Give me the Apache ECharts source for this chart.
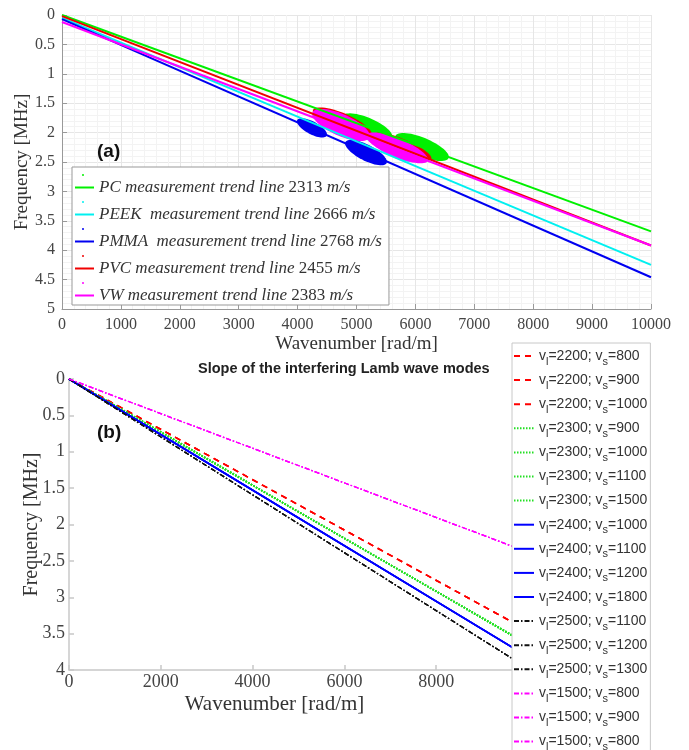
<!DOCTYPE html>
<html><head><meta charset="utf-8">
<script src="https://cdn.jsdelivr.net/npm/echarts@6/dist/echarts.min.js"></script>
<style>html,body{margin:0;padding:0;background:#fff}#c{width:689px;height:750px}</style>
</head><body><div id="c"></div>
<script>
// ================= (a) measurement trend lines =================
const materials = ['PC', 'PEEK', 'PMMA', 'PVC', 'VW'];
const materialLabel = ['PC', 'PEEK ', 'PMMA ', 'PVC', 'VW'];
const trendSpeeds = [2313, 2666, 2768, 2455, 2383];
const trendK = [0, 10000];
const trendPC = [0.00, 3.68];
const trendPEEK = [0.05, 4.25];
const trendPMMA = [0.07, 4.46];
const trendPVC = [0.02, 3.92];
const trendVW = [0.12, 3.92];
// measurement clouds: [k centre, f centre, half length (k), half thickness (f)]
const cloudPC = [[5178, 1.905, 430, 0.17], [6112, 2.245, 455, 0.17]];
const cloudPEEK = [[4950, 1.96, 330, 0.10], [5650, 2.34, 300, 0.09]];
const cloudPMMA = [[4244, 1.92, 255, 0.12], [5161, 2.34, 355, 0.15]];
const cloudPVC = [[4760, 1.83, 500, 0.17], [5772, 2.24, 500, 0.14]];
const cloudVW = [[4737, 1.87, 490, 0.2], [5688, 2.26, 525, 0.17]];
const colorsA = ['#00f000', '#00f0f0', '#0000f0', '#f00000', '#ff00ff'];

// ================= (b) Lamb wave mode slopes =================
const vl = [2200, 2200, 2200, 2300, 2300, 2300, 2300, 2400, 2400, 2400, 2400, 2500, 2500, 2500, 1500, 1500, 1500];
const vs = [800, 900, 1000, 900, 1000, 1100, 1500, 1000, 1100, 1200, 1800, 1100, 1200, 1300, 800, 900, 800];
const modeK = [0, 10000];
const modeFStart = [0, 0, 0, 0, 0, 0, 0, 0, 0, 0, 0, 0, 0, 0, 0, 0, 0];
const modeFEnd = [3.46, 3.46, 3.46, 3.65, 3.65, 3.65, 3.65, 3.82, 3.82, 3.82, 3.82, 3.98, 3.98, 3.98, 2.38, 2.38, 2.38];

const SERIF = "'Liberation Serif', 'DejaVu Serif', serif";
const SANS = "'Liberation Sans', Arial, sans-serif";

const trendData = [trendPC, trendPEEK, trendPMMA, trendPVC, trendVW];
const cloudData = [cloudPC, cloudPEEK, cloudPMMA, cloudPVC, cloudVW];

function cloudRender(slope) {
  return function (params, api) {
    const k = api.value(0), f = api.value(1), dk = api.value(2), df = api.value(3);
    const pts = [];
    for (let i = 0; i < 60; i++) {
      const t = i / 60 * 2 * Math.PI;
      pts.push(api.coord([k + dk * Math.cos(t), f + slope * dk * Math.cos(t) + df * Math.sin(t)]));
    }
    return { type: 'polygon', shape: { points: pts }, style: { fill: api.visual('color') } };
  };
}

const series = [];
const lineNames = materials.map(m => m + ' trend');
const cloudNames = materials.map(m => m + ' data');
materials.forEach((m, i) => {
  series.push({
    type: 'line', name: lineNames[i], xAxisIndex: 0, yAxisIndex: 0, symbol: 'none',
    data: trendK.map((k, j) => [k, trendData[i][j]]),
    lineStyle: { width: 2, color: colorsA[i] }, itemStyle: { color: colorsA[i] }, silent: true
  });
});
const cloudOrder = [0, 1, 3, 4, 2];
cloudOrder.forEach(i => {
  const slope = (trendData[i][1] - trendData[i][0]) / (trendK[1] - trendK[0]);
  series.push({
    type: 'custom', name: cloudNames[i], xAxisIndex: 0, yAxisIndex: 0,
    renderItem: cloudRender(slope), data: cloudData[i], encode: { x: 0, y: 1 },
    itemStyle: { color: colorsA[i] }, clip: true, silent: true
  });
});

const groupStyle = {
  2200: { color: '#ff0000', type: [6, 5], width: 1.5 },
  2300: { color: '#22e022', type: [1.5, 1.5], width: 1.8 },
  2400: { color: '#0000ff', type: 'solid', width: 1.6 },
  2500: { color: '#111111', type: [5, 2, 1.5, 2], width: 1.3 },
  1500: { color: '#ff00ff', type: [5, 2, 1.5, 2], width: 1.3 }
};
const modeNames = vl.map((v, i) => 'mode' + i);
vl.forEach((v, i) => {
  const st = groupStyle[v];
  series.push({
    type: 'line', name: modeNames[i], xAxisIndex: 1, yAxisIndex: 1, symbol: 'none',
    data: [[modeK[0], modeFStart[i]], [modeK[1], modeFEnd[i]]],
    lineStyle: { color: st.color, type: st.type, width: st.width }, itemStyle: { color: st.color }, silent: true
  });
});

const plain = v => String(v);

const chart = echarts.init(document.getElementById('c'));
chart.setOption({
  animation: false,
  backgroundColor: '#fff',
  title: {
    text: 'Slope of the interfering Lamb wave modes', left: 198, top: 361, padding: 0,
    textStyle: { fontFamily: SANS, fontWeight: 'bold', fontSize: 14.5, color: '#222' }
  },
  grid: [
    { left: 62, top: 15, width: 589, height: 294 },
    { left: 69, top: 379, width: 459, height: 291 }
  ],
  xAxis: [
    {
      type: 'value', gridIndex: 0, min: 0, max: 10000, interval: 1000, position: 'bottom',
      axisLine: { show: true, onZero: false, lineStyle: { color: '#999', width: 1 } },
      axisTick: { show: true, inside: true, length: 5, lineStyle: { color: '#999' } },
      axisLabel: { margin: 8, fontFamily: SERIF, fontSize: 16, color: '#444', formatter: plain },
      splitLine: { show: true, lineStyle: { color: '#e6e6e6', width: 1 } },
      minorTick: { show: false, splitNumber: 5 },
      minorSplitLine: { show: true, lineStyle: { color: '#f3f3f3', width: 1 } },
      name: 'Wavenumber [rad/m]', nameLocation: 'middle', nameGap: 26, nameMoveOverlap: false,
      nameTextStyle: { fontFamily: SERIF, fontSize: 19, color: '#333' }
    },
    {
      type: 'value', gridIndex: 1, min: 0, max: 10000, interval: 2000, position: 'bottom',
      axisLine: { show: true, onZero: false, lineStyle: { color: '#c8c8c8', width: 1.5 } },
      axisTick: { show: true, inside: true, length: 5, lineStyle: { color: '#c8c8c8', width: 1.5 } },
      axisLabel: { margin: 3, fontFamily: SERIF, fontSize: 18, color: '#444', showMaxLabel: false, formatter: plain },
      splitLine: { show: false },
      name: 'Wavenumber [rad/m]', nameLocation: 'middle', nameGap: 24, nameMoveOverlap: false,
      nameTextStyle: { fontFamily: SERIF, fontSize: 21, color: '#333', padding: [0, 48, 0, 0] }
    }
  ],
  yAxis: [
    {
      type: 'value', gridIndex: 0, min: 0, max: 5, interval: 0.5, inverse: true,
      axisLine: { show: true, onZero: false, lineStyle: { color: '#999', width: 1 } },
      axisTick: { show: true, inside: true, length: 5, lineStyle: { color: '#999' } },
      axisLabel: { margin: 7, fontFamily: SERIF, fontSize: 16, color: '#444' },
      splitLine: { show: true, lineStyle: { color: '#e6e6e6', width: 1 } },
      minorTick: { show: false, splitNumber: 5 },
      minorSplitLine: { show: true, lineStyle: { color: '#f3f3f3', width: 1 } },
      name: 'Frequency [MHz]', nameLocation: 'middle', nameGap: 30, nameMoveOverlap: false,
      nameTextStyle: { fontFamily: SERIF, fontSize: 19, color: '#333' }
    },
    {
      type: 'value', gridIndex: 1, min: 0, max: 4, interval: 0.5, inverse: true,
      axisLine: { show: true, onZero: false, lineStyle: { color: '#c8c8c8', width: 1.5 } },
      axisTick: { show: true, inside: true, length: 5, lineStyle: { color: '#c8c8c8', width: 1.5 } },
      axisLabel: { margin: 4, fontFamily: SERIF, fontSize: 18, color: '#444' },
      splitLine: { show: false },
      name: 'Frequency [MHz]', nameLocation: 'middle', nameGap: 27, nameMoveOverlap: false,
      nameTextStyle: { fontFamily: SERIF, fontSize: 20, color: '#333' }
    }
  ],
  legend: [
    {
      data: lineNames, orient: 'vertical', left: 72, top: 167, padding: [12, 7, 1, 2],
      itemWidth: 19, itemHeight: 3, itemGap: 10, selectedMode: false,
      backgroundColor: '#fff', borderColor: '#999', borderWidth: 1,
      itemStyle: { opacity: 0 },
      formatter: function (name) {
        const i = lineNames.indexOf(name);
        return '{i|' + materialLabel[i] + ' measurement trend line }{n|' + trendSpeeds[i] + '}{i| m/s}';
      },
      textStyle: {
        fontFamily: SERIF, fontSize: 17, color: '#333', lineHeight: 17,
        rich: {
          i: { fontFamily: SERIF, fontStyle: 'italic', fontSize: 17, color: '#333', lineHeight: 17 },
          n: { fontFamily: SERIF, fontSize: 17, color: '#333', lineHeight: 17 }
        }
      }
    },
    {
      data: cloudNames, orient: 'vertical', left: 82, top: 174, padding: 0,
      itemWidth: 2, itemHeight: 2, itemGap: 25, icon: 'circle', selectedMode: false, z: 6,
      formatter: function () { return ''; },
      textStyle: { fontSize: 2, lineHeight: 2 }
    },
    {
      data: modeNames, orient: 'vertical', left: 512, top: 343, height: 440, padding: [2, 3, 40, 1],
      itemWidth: 20, itemHeight: 4, itemGap: 2.1, selectedMode: false,
      backgroundColor: '#fff', borderColor: '#c8c8c8', borderWidth: 1,
      itemStyle: { opacity: 0 },
      formatter: function (name) {
        const i = modeNames.indexOf(name);
        return '{v|v}{s|l}{v|=' + vl[i] + '; v}{s|s}{v|=' + vs[i] + '}';
      },
      textStyle: {
        fontFamily: SANS, fontSize: 14, color: '#333', lineHeight: 22,
        rich: {
          v: { fontFamily: SANS, fontSize: 14, color: '#333', lineHeight: 22, verticalAlign: 'middle' },
          s: { fontFamily: SANS, fontSize: 11, color: '#333', lineHeight: 22, verticalAlign: 'bottom' }
        }
      }
    }
  ],
  graphic: [
    { type: 'text', left: 97, top: 142, z: 10, style: { text: '(a)', font: "bold 19px 'Liberation Sans', Arial, sans-serif", fill: '#111' } },
    { type: 'text', left: 97, top: 423, z: 10, style: { text: '(b)', font: "bold 19px 'Liberation Sans', Arial, sans-serif", fill: '#111' } }
  ],
  series: series
});
</script>
</body></html>
